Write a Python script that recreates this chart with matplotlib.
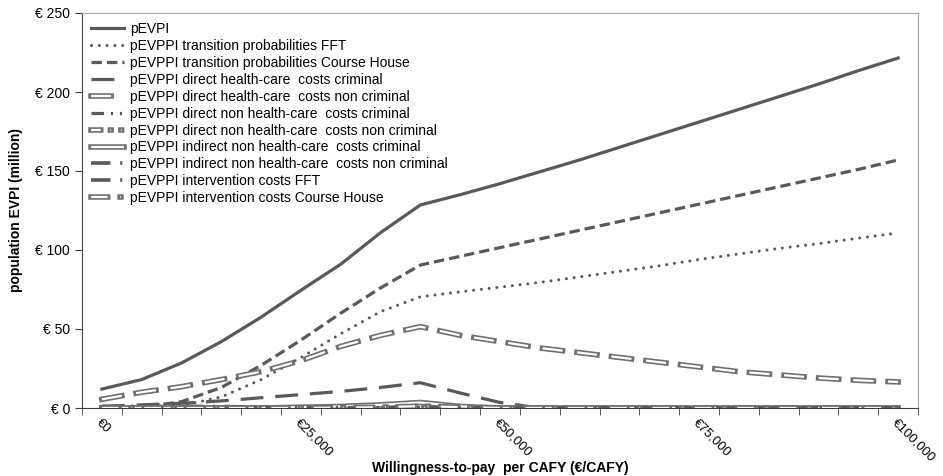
import matplotlib
matplotlib.use('Agg')
import matplotlib.pyplot as plt
import matplotlib.patheffects as pe
import numpy as np

plt.rcParams['font.family'] = ['Liberation Sans', 'DejaVu Sans']
plt.rcParams['lines.scale_dashes'] = False

wtp = [0, 5000, 10000, 15000, 20000, 25000, 30000, 35000, 40000, 45000, 50000,
       55000, 60000, 65000, 70000, 75000, 80000, 85000, 90000, 95000, 100000]

pevpi = [12, 18, 28.5, 42, 57.5, 74.5, 91, 111, 128.5, 135, 142, 149.5, 157,
         165, 173, 181, 189, 197, 205, 213.5, 221.5]
tp_fft = [0.3, 0.5, 1.5, 7, 18, 32, 47, 61, 70.4, 73.5, 76.5, 79.5, 83, 86.5,
          90, 94, 97.5, 101, 104, 107.5, 110.8]
tp_ch = [0.5, 0.5, 4, 13, 27, 43, 60, 76, 90.5, 96, 101.5, 107, 112.5, 118,
         123.5, 129, 134.5, 140, 145.5, 151, 157]
dhc_crim = [1, 2, 3, 4.5, 6.5, 8.5, 10.5, 13, 16, 9.5, 3.5, 0, 0, 0, 0, 0, 0,
            0, 0, 0, 0]
dhc_noncrim = [5.5, 10, 13.5, 18, 23, 30, 39, 46, 51.5, 46, 42, 38, 35, 32, 29,
               26, 23, 21, 19, 17.5, 16.5]
dnhc_crim = [0.5, 0.5, 0.5, 0.3, 0.2, 0.1, 0.1, 0.2, 0.4, 0.1, 0, 0, 0, 0, 0,
             0, 0, 0, 0, 0, 0]
dnhc_noncrim = [0.2, 0.2, 0.2, 0.1, 0.1, 0, 0, 0.1, 0.2, 0, 0, 0, 0, 0, 0, 0,
                0, 0, 0, 0, 0]
inhc_crim = [0, 0, 0, 0, 0, 0.5, 1, 2, 3.5, 1, 0, 0, 0, 0, 0, 0, 0, 0, 0, 0, 0]
inhc_noncrim = [0.3, 0.3, 0.3, 0.2, 0, 0, 0, 0, 0, 0, 0, 0, 0, 0, 0, 0, 0, 0,
                0, 0, 0]
int_fft = [1, 1, 1, 1, 0.5, 0.3, 0.2, 0.2, 0.3, 0.1, 0, 0, 0, 0, 0, 0, 0, 0,
           0, 0, 0]
int_ch = [0, 0, 0, 0, 0, 0, 0.2, 0.5, 1.2, 0.5, 0, 0, 0, 0, 0, 0, 0, 0, 0, 0, 0]

labels = ['pEVPI',
          'pEVPPI transition probabilities FFT',
          'pEVPPI transition probabilities Course House',
          'pEVPPI direct health-care  costs criminal',
          'pEVPPI direct health-care  costs non criminal',
          'pEVPPI direct non health-care  costs criminal',
          'pEVPPI direct non health-care  costs non criminal',
          'pEVPPI indirect non health-care  costs criminal',
          'pEVPPI indirect non health-care  costs non criminal',
          'pEVPPI intervention costs FFT',
          'pEVPPI intervention costs Course House']

dark = '#595959'
edge = '#707070'
# outlined ("hollow") lines: grey stroke with a white core
hollow = [pe.Stroke(linewidth=4.0, foreground=edge, capstyle='projecting'),
          pe.Stroke(linewidth=1.6, foreground='white', capstyle='butt')]

fig = plt.figure(figsize=(9.43, 4.76), dpi=100)
ax = fig.add_axes([82 / 943, 1 - 408 / 476, (918 - 82) / 943, (408 - 13) / 476])

ax.plot(wtp, pevpi, color=dark, lw=2.3, label=labels[0])
ax.plot(wtp, tp_fft, color=dark, lw=2.2, dashes=(0.01, 5.6), dash_capstyle='round', label=labels[1])
ax.plot(wtp, tp_ch, color=dark, lw=2.3, dashes=(7.5, 3.6), label=labels[2])
ax.plot(wtp, dhc_crim, color=dark, lw=2.3, dashes=(16.5, 8.5), label=labels[3])
ax.plot(wtp, dhc_noncrim, color=edge, lw=3, dashes=(14.5, 10.5), path_effects=hollow, label=labels[4])
ax.plot(wtp, dnhc_crim, color=dark, lw=2.3, dashes=(9, 5, 1.5, 5, 1.5, 5), label=labels[5])
ax.plot(wtp, dnhc_noncrim, color=edge, lw=3, dashes=(7, 7, 0.5, 7, 0.5, 7), path_effects=hollow, label=labels[6])
ax.plot(wtp, inhc_crim, color=edge, lw=3, path_effects=hollow, label=labels[7])
ax.plot(wtp, inhc_noncrim, color=dark, lw=2.6, dashes=(14, 7, 1.5, 7), label=labels[8])
ax.plot(wtp, int_fft, color=dark, lw=2.6, dashes=(14, 7, 1.5, 7), label=labels[9])
ax.plot(wtp, int_ch, color=edge, lw=3, dashes=(12, 9, 0.5, 9), path_effects=hollow, label=labels[10])

ax.set_xlim(-2500, 102500)
ax.set_ylim(0, 250)

ax.set_yticks([0, 50, 100, 150, 200, 250])
ax.set_yticklabels(['€ 0', '€ 50', '€ 100', '€ 150', '€ 200', '€ 250'], fontsize=10)
ax.set_xticks([0, 25000, 50000, 75000, 100000])
ax.set_xticklabels(['€0', '€25,000', '€50,000', '€75,000', '€100,000'], fontsize=9.5,
                   rotation=-45, ha='left', va='top', rotation_mode='anchor')
ax.set_xticks(np.arange(-2500, 102501, 5000), minor=True)
ax.tick_params(axis='x', which='major', length=0, pad=6)
ax.tick_params(axis='x', which='minor', length=5, direction='out', color='#404040')
ax.tick_params(axis='y', length=5, direction='out', color='#404040')

for side in ['left', 'bottom']:
    ax.spines[side].set_color('#404040')
for side in ['top', 'right']:
    ax.spines[side].set_color('#a6a6a6')

ax.set_ylabel('population EVPI (million)', fontsize=10, fontweight='bold', labelpad=9)
ax.set_xlabel('Willingness-to-pay  per CAFY (€/CAFY)', fontsize=10, fontweight='bold')
ax.xaxis.set_label_coords(0.5, -0.135)

ax.legend(loc='upper left', bbox_to_anchor=(0.0, 1.0), frameon=False, fontsize=10,
          handlelength=2.4, handletextpad=0.4, labelspacing=0.21, borderaxespad=0.35,
          borderpad=0.3)

plt.savefig('out.png', dpi=100)
